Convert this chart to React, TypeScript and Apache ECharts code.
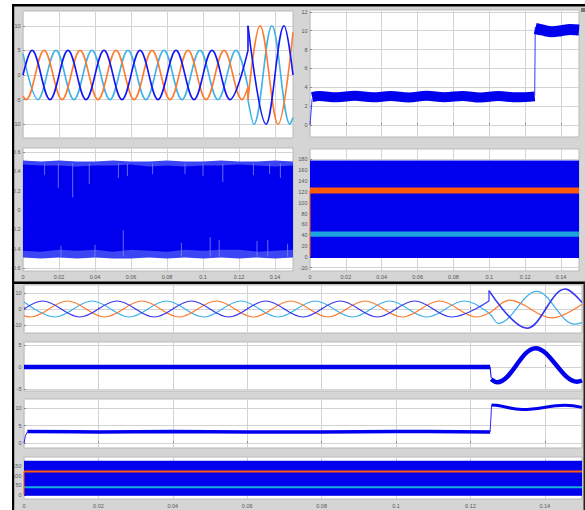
import React, { useEffect, useRef } from 'react';
import * as echarts from 'echarts';

// ---------------- Data ----------------
const xTicks = [0, 0.02, 0.04, 0.06, 0.08, 0.1, 0.12, 0.14];

// three-phase waves before the step (extreme points, amplitude 5)
const bluePre = [[0, 0], [0.005, 5], [0.015, -5], [0.025, 5], [0.035, -5], [0.045, 5], [0.055, -5], [0.065, 5], [0.075, -5], [0.085, 5], [0.095, -5], [0.105, 5], [0.115, -5], [0.125, 5]];
const orangePre = [[0, -4.33], [0.0017, -5], [0.0117, 5], [0.0217, -5], [0.0317, 5], [0.0417, -5], [0.0517, 5], [0.0617, -5], [0.0717, 5], [0.0817, -5], [0.0917, 5], [0.1017, -5], [0.1117, 5], [0.1217, -5], [0.125, -2.5]];
const cyanPre = [[0, 4.33], [0.0083, -5], [0.0183, 5], [0.0283, -5], [0.0383, 5], [0.0483, -5], [0.0583, 5], [0.0683, -5], [0.0783, 5], [0.0883, -5], [0.0983, 5], [0.1083, -5], [0.1183, 5], [0.125, -2.5]];

// panel A after the step
const blueAJump = [[0.125, 5], [0.125, 10]];
const blueAPost = [[0.125, 10], [0.135, -10], [0.145, 10], [0.15, 0]];
const orangeAJump = [[0.125, -2.5], [0.125, -5]];
const orangeAPost = [[0.125, -5], [0.1317, 10], [0.1417, -10], [0.15, 8.66]];
const cyanAJump = [[0.125, -2.5], [0.125, -5]];
const cyanAPost = [[0.125, -5], [0.1283, -10], [0.1383, 10], [0.1483, -10], [0.15, -8.66]];

// panel B (noisy level)
const bRise = [[0, 0], [0.0012, 2.8]];
const bPre = [[0.0012, 2.95], [0.005, 3.05], [0.015, 2.92], [0.025, 3.08], [0.035, 2.92], [0.045, 3.05], [0.055, 2.9], [0.065, 3.08], [0.075, 2.93], [0.085, 3.07], [0.095, 2.9], [0.105, 3.05], [0.115, 2.92], [0.1253, 3.02]];
const bJump = [[0.1253, 3.1], [0.1256, 10.4]];
const bPost = [[0.1256, 10.25], [0.13, 10.05], [0.135, 9.9], [0.14, 10.0], [0.145, 10.12], [0.15, 10.08]];

// panel C (noise band envelopes)
const cT = [0, 0.01, 0.02, 0.03, 0.04, 0.05, 0.06, 0.07, 0.08, 0.09, 0.1, 0.11, 0.12, 0.13, 0.14, 0.15];
const cOuterUp = [0.51, 0.5, 0.51, 0.5, 0.5, 0.51, 0.5, 0.5, 0.51, 0.5, 0.5, 0.51, 0.5, 0.5, 0.51, 0.5];
const cInnerUp = [0.47, 0.46, 0.46, 0.45, 0.46, 0.46, 0.47, 0.45, 0.46, 0.45, 0.46, 0.46, 0.47, 0.46, 0.45, 0.46];
const cInnerLow = [-0.42, -0.43, -0.41, -0.42, -0.41, -0.43, -0.41, -0.42, -0.43, -0.41, -0.42, -0.41, -0.41, -0.43, -0.42, -0.41];
const cOuterLow = [-0.49, -0.5, -0.49, -0.5, -0.49, -0.5, -0.5, -0.49, -0.5, -0.49, -0.5, -0.49, -0.5, -0.49, -0.5, -0.49];
const cSpikes = [
  [0.0196, 0.48, 0.23], [0.0276, 0.48, 0.13], [0.0368, 0.48, 0.27], [0.012, 0.48, 0.36], [0.053, 0.48, 0.33],
  [0.058, 0.48, 0.35], [0.072, 0.48, 0.37], [0.09, 0.48, 0.37], [0.111, 0.48, 0.29], [0.128, 0.48, 0.36],
  [0.137, 0.48, 0.37], [0.143, 0.48, 0.33], [0.1, 0.48, 0.35],
  [0.0557, -0.48, -0.21], [0.0211, -0.48, -0.37], [0.088, -0.48, -0.34], [0.104, -0.48, -0.28],
  [0.109, -0.48, -0.31], [0.13, -0.48, -0.32], [0.136, -0.48, -0.31], [0.04, -0.48, -0.36], [0.147, -0.48, -0.35],
];

// panel D (switching bands)
const dT = [0, 0.15];
const dBlueBand = [-2, 178];
const dOrangeBand = [117, 128];
const dCyanBand = [37, 47];

// panel E after the step
const blueEJump = [[0.125, 5], [0.125, 11.5]];
const blueEPost = [[0.125, 11.5], [0.1352, -12], [0.1455, 12.5], [0.15, 4]];
const orangeEPost = [[0.1305, 5.5], [0.142, -5.5], [0.15, 3]];
const cyanEPost = [[0.1275, -9], [0.1378, 11], [0.148, -9.5], [0.15, -8.5]];

// panel F
const fPre = [[0, 0], [0.1253, 0]];
const fJump = [[0.1253, 0], [0.1256, -2.6]];
const fPost = [[0.1256, -2.8], [0.1272, -3.5], [0.1375, 4.3], [0.1487, -3.4], [0.15, -3.1]];

// panel G
const gRise = [[0, 0], [0.0004, 2.2], [0.0009, 3.2]];
const gPre = [[0.0009, 3.3], [0.02, 3.2], [0.04, 3.3], [0.06, 3.15], [0.08, 3.2], [0.1, 3.3], [0.1253, 3.2]];
const gJump = [[0.1253, 3.2], [0.1257, 10.9]];
const gPost = [[0.1257, 10.9], [0.127, 10.8], [0.134, 9.6], [0.1455, 10.8], [0.15, 10.2]];

// panel H
const hBlueBand = [-4, 177];
const hOrangeBand = [116, 126];
const hCyanBand = [34, 45];

// y ticks
const aY = [-10, -5, 0, 5, 10];
const bY = [0, 2, 4, 6, 8, 10, 12];
const cY = [-0.6, -0.4, -0.2, 0, 0.2, 0.4, 0.6];
const dY = [-20, 0, 20, 40, 60, 80, 100, 120, 140, 160, 180];
const eY = [-10, 0, 10];
const fY = [-5, 0, 5];
const gY = [0, 5, 10];
const hY = [0, 50, 100, 150];

// ---------------- Styles ----------------
const BLUE = '#1414f5';
const ORANGE = '#ff7a2e';
const CYAN = '#3cb2e8';
const FILLBLUE = '#0000ee';
const FONT = 'Liberation Sans';

const grids = [
  { left: 23, top: 11, width: 270, height: 127 },
  { left: 310, top: 10, width: 269, height: 127 },
  { left: 23, top: 148, width: 270, height: 123 },
  { left: 310, top: 149, width: 269, height: 122 },
  { left: 24, top: 285, width: 558, height: 48 },
  { left: 24, top: 342, width: 558, height: 49 },
  { left: 24, top: 399, width: 558, height: 49 },
  { left: 24, top: 457, width: 558, height: 42 },
].map((g) => ({ ...g, show: true, backgroundColor: '#ffffff', borderColor: '#b9b9b9', borderWidth: 1 }));

const yDefs = [
  { min: -12.8, max: 13, ticks: aY },
  { min: -1.3, max: 12.2, ticks: bY },
  { min: -0.63, max: 0.64, ticks: cY },
  { min: -26, max: 199, ticks: dY },
  { min: -15, max: 15, ticks: eY },
  { min: -5.5, max: 5.7, ticks: fY },
  { min: -1.4, max: 12.6, ticks: gY },
  { min: -21, max: 196, ticks: hY },
];
const xLabelShown = [false, false, true, true, false, false, false, true];

const splitLine = { show: true, lineStyle: { color: '#d3d3d3', width: 1 } };

const xAxes = grids.map((_, i) => ({
  type: 'value', gridIndex: i, min: 0, max: 0.15,
  axisLine: { show: false },
  axisTick: { show: true, inside: true, length: 2, customValues: xTicks, lineStyle: { color: '#8a8a8a' } },
  axisLabel: { show: xLabelShown[i], customValues: xTicks, fontSize: 5.5, color: '#555', margin: i === 7 ? 4 : 3, fontFamily: FONT },
  splitLine,
}));

const yAxes = yDefs.map((d, i) => ({
  type: 'value', gridIndex: i, min: d.min, max: d.max,
  axisLine: { show: false },
  axisTick: { show: true, inside: true, length: 2, customValues: d.ticks, lineStyle: { color: '#8a8a8a' } },
  axisLabel: { customValues: d.ticks, fontSize: 5.5, color: '#555', margin: 2.5, fontFamily: FONT },
  splitLine,
}));

function line(i: number, data: number[][], color: string, width: number, smooth: number | boolean, z = 3) {
  return {
    type: 'line', xAxisIndex: i, yAxisIndex: i, data, symbol: 'none', showSymbol: false,
    smooth, silent: true, z, lineStyle: { color, width, cap: 'butt' }, itemStyle: { color },
  };
}

function band(i: number, times: number[], lows: number[], highs: number[], color: string, z = 2) {
  return {
    type: 'custom', xAxisIndex: i, yAxisIndex: i, silent: true, z,
    data: [[times[0], lows[0]]],
    renderItem: (_p: any, api: any) => {
      const pts: number[][] = [];
      for (let k = 0; k < times.length; k++) pts.push(api.coord([times[k], highs[k]]));
      for (let k = times.length - 1; k >= 0; k--) pts.push(api.coord([times[k], lows[k]]));
      return { type: 'polygon', shape: { points: pts }, style: { fill: color } };
    },
  };
}

function constBand(i: number, range: number[], color: string, z = 2) {
  return band(i, dT, [range[0], range[0]], [range[1], range[1]], color, z);
}

const SM = 0.36;

const series: any[] = [
  // A
  line(0, cyanPre, CYAN, 1.6, SM, 3),
  line(0, cyanAJump, CYAN, 1.6, false, 3),
  line(0, cyanAPost, CYAN, 1.6, SM, 3),
  line(0, orangePre, ORANGE, 1.6, SM, 4),
  line(0, orangeAJump, ORANGE, 1.6, false, 4),
  line(0, orangeAPost, ORANGE, 1.6, SM, 4),
  line(0, bluePre, BLUE, 1.6, SM, 5),
  line(0, blueAJump, BLUE, 1.6, false, 5),
  line(0, blueAPost, BLUE, 1.6, SM, 5),
  // B
  line(1, bRise, '#3a3af5', 1, false),
  line(1, bPre, FILLBLUE, 10, 0.4),
  line(1, bJump, '#3a3af5', 1, false),
  line(1, bPost, FILLBLUE, 11, 0.4),
  // C
  band(2, cT, cOuterLow, cOuterUp, '#3b45f3', 2),
  band(2, cT, cInnerLow, cInnerUp, FILLBLUE, 3),
  {
    type: 'custom', xAxisIndex: 2, yAxisIndex: 2, silent: true, z: 4,
    data: cSpikes, encode: { x: 0, y: [1, 2] },
    renderItem: (_p: any, api: any) => {
      const a = api.coord([api.value(0), api.value(1)]);
      const b = api.coord([api.value(0), api.value(2)]);
      return { type: 'line', shape: { x1: a[0], y1: a[1], x2: b[0], y2: b[1] }, style: { stroke: '#7f87f6', lineWidth: 0.8 } };
    },
  },
  // D
  constBand(3, dBlueBand, FILLBLUE, 2),
  constBand(3, dOrangeBand, '#ff5a0a', 3),
  constBand(3, dCyanBand, '#1aa3dc', 3),
  line(3, [[0, 0], [0, 122]], '#ff5a0a', 1, false, 4),
  // E
  line(4, cyanPre.concat(cyanEPost), CYAN, 1.2, SM, 3),
  line(4, orangePre.concat(orangeEPost), ORANGE, 1.2, SM, 4),
  line(4, bluePre, '#3535f2', 1.2, SM, 5),
  line(4, blueEJump, '#3535f2', 1.2, false, 5),
  line(4, blueEPost, '#3535f2', 1.6, SM, 5),
  // F
  line(5, fPre, FILLBLUE, 4.5, false),
  line(5, fJump, FILLBLUE, 1, false),
  line(5, fPost, FILLBLUE, 4.5, SM),
  // G
  line(6, gRise, '#2a2af5', 1, false),
  line(6, gPre, FILLBLUE, 3.5, 0.4),
  line(6, gJump, '#2a2af5', 1, false),
  line(6, gPost, FILLBLUE, 3, 0.4),
  // H
  constBand(7, hBlueBand, FILLBLUE, 2),
  constBand(7, hOrangeBand, '#ff5a0a', 3),
  constBand(7, hCyanBand, '#17b0d8', 3),
  line(7, [[0, 0], [0, 120]], '#ff5a0a', 1, false, 4),
];

const graphic = [
  { type: 'rect', z: -100, silent: true, shape: { x: 12, y: 4, width: 573, height: 506 }, style: { fill: '#d5d5d5' } },
  { type: 'rect', z: 100, silent: true, shape: { x: 12, y: 4, width: 573, height: 2.5 }, style: { fill: '#000' } },
  { type: 'rect', z: 100, silent: true, shape: { x: 12, y: 4, width: 2.2, height: 506 }, style: { fill: '#000' } },
  { type: 'rect', z: 100, silent: true, shape: { x: 12, y: 281.5, width: 573, height: 2.5 }, style: { fill: '#000' } },
  { type: 'rect', z: 100, silent: true, shape: { x: 583.5, y: 282, width: 1.5, height: 228 }, style: { fill: '#222' } },
  { type: 'rect', z: 100, silent: true, shape: { x: 581, y: 8, width: 4, height: 4 }, style: { fill: '#777' } },
];

const option: any = {
  animation: false,
  backgroundColor: '#ffffff',
  grid: grids,
  xAxis: xAxes,
  yAxis: yAxes,
  series,
  graphic,
};

export default function App() {
  const ref = useRef<HTMLDivElement>(null);
  useEffect(() => {
    const chart = echarts.init(ref.current!, null, { renderer: 'svg' });
    chart.setOption(option);
    return () => chart.dispose();
  }, []);
  return (
    <div
      ref={ref}
      style={{ position: 'fixed', left: 0, top: 0, width: 585, height: 510, background: '#fff' }}
    />
  );
}
